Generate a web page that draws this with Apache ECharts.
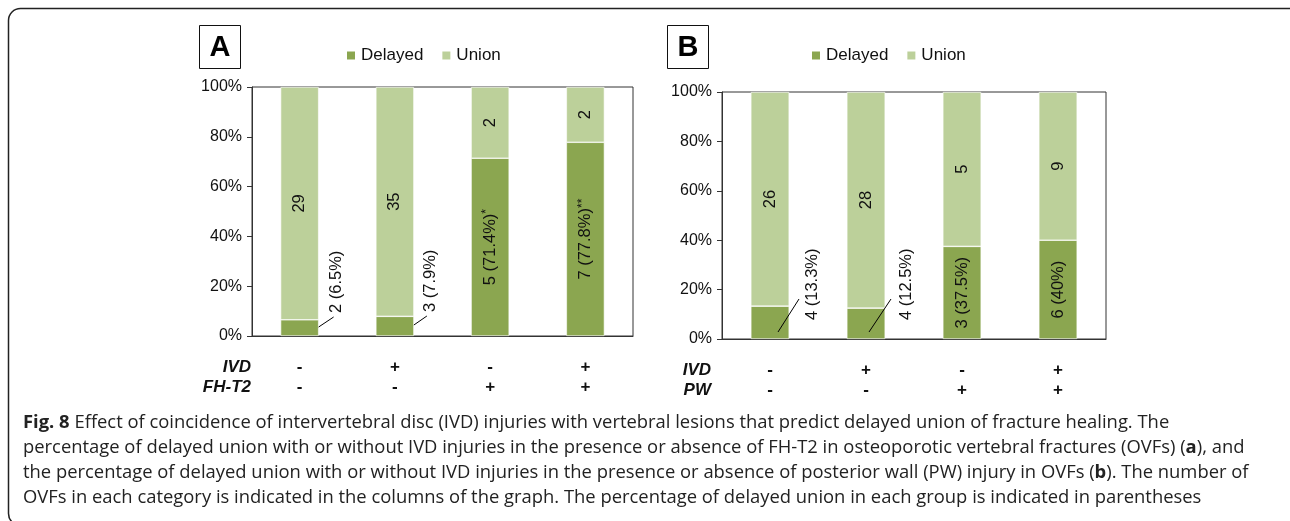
<!DOCTYPE html>
<html><head><meta charset="utf-8">
<script src="https://cdn.jsdelivr.net/npm/echarts@6/dist/echarts.min.js"></script>
<style>html,body{margin:0;padding:0;background:#fff}#c{width:1290px;height:521px}</style>
</head><body><div id="c"></div>
<script>
// ---------- Data ----------
const categoriesA = ['IVD-/FH-T2-', 'IVD+/FH-T2-', 'IVD-/FH-T2+', 'IVD+/FH-T2+'];
const ivdSignsA = ['-', '+', '-', '+'];
const fhSignsA = ['-', '-', '+', '+'];
const delayedPctA = [6.5, 7.9, 71.4, 77.8];
const unionPctA = [93.5, 92.1, 28.6, 22.2];
const delayedCountA = [2, 3, 5, 7];
const unionCountA = [29, 35, 2, 2];
const delayedPctTextA = ['6.5%', '7.9%', '71.4%', '77.8%'];
const starsA = ['', '', '*', '**'];
const outsideA = [true, true, false, false];

const categoriesB = ['IVD-/PW-', 'IVD+/PW-', 'IVD-/PW+', 'IVD+/PW+'];
const ivdSignsB = ['-', '+', '-', '+'];
const pwSignsB = ['-', '-', '+', '+'];
const delayedPctB = [13.3, 12.5, 37.5, 40];
const unionPctB = [86.7, 87.5, 62.5, 60];
const delayedCountB = [4, 4, 3, 6];
const unionCountB = [26, 28, 5, 9];
const delayedPctTextB = ['13.3%', '12.5%', '37.5%', '40%'];
const starsB = ['', '', '', ''];
const outsideB = [true, true, false, false];

const yTickLabels = ['0%', '20%', '40%', '60%', '80%', '100%'];

// ---------- Styles ----------
const DARK = '#8BA650';
const LIGHT = '#BCD09A';
const FONT = '"Liberation Sans", Arial, sans-serif';
const CAP_FONT = '"Open Sans", "Noto Sans", sans-serif';
const CAP_SIZE = 18.4;

const chart = echarts.init(document.getElementById('c'), null, {renderer: 'canvas'});

function yAxisCfg(gi) {
  return {
    type: 'value', gridIndex: gi, min: 0, max: 100, interval: 20,
    axisLine: {show: true, lineStyle: {color: '#333', width: 1}},
    axisTick: {show: true, length: 5, lineStyle: {color: '#333'}},
    splitLine: {show: false},
    axisLabel: {
      fontFamily: FONT, fontSize: 16, color: '#111', margin: 10,
      formatter: (v) => yTickLabels[Math.round(v / 20)]
    }
  };
}
function xAxisCfg(gi, cats, row1, row2) {
  return {
    type: 'category', gridIndex: gi, data: cats,
    axisLine: {show: true, lineStyle: {color: '#333', width: 1}},
    axisTick: {show: false},
    axisLabel: {
      fontFamily: FONT, fontSize: 17, fontWeight: 'bold', color: '#111', margin: 21, lineHeight: 20,
      formatter: (v, i) => row1[i] + '\n' + row2[i]
    }
  };
}
function delayedSeries(gi, pct, counts, pctText, stars, outside) {
  return {
    name: 'Delayed', type: 'bar', stack: 's' + gi, xAxisIndex: gi, yAxisIndex: gi,
    barWidth: '40%',
    itemStyle: {color: DARK, borderColor: '#fff', borderWidth: 0.6},
    data: pct.map((v, i) => ({value: v, label: {show: !outside[i]}})),
    label: {
      show: true, position: 'inside', rotate: 90, align: 'center', verticalAlign: 'middle',
      color: '#111',
      formatter: (p) => '{n|' + counts[p.dataIndex] + ' (' + pctText[p.dataIndex] + ')}' +
        (stars[p.dataIndex] ? '{s|' + stars[p.dataIndex] + '}' : ''),
      rich: {
        n: {fontFamily: FONT, fontSize: 16.5, color: '#111', lineHeight: 18},
        s: {fontFamily: FONT, fontSize: 12, color: '#111', lineHeight: 18, verticalAlign: 'top', padding: [0, 0, 6, 0]}
      }
    }
  };
}
function unionSeries(gi, pct, counts) {
  return {
    name: 'Union', type: 'bar', stack: 's' + gi, xAxisIndex: gi, yAxisIndex: gi,
    barWidth: '40%',
    itemStyle: {color: LIGHT, borderColor: '#fff', borderWidth: 0.6},
    data: pct,
    label: {
      show: true, position: 'inside', rotate: 90, align: 'center', verticalAlign: 'middle',
      fontFamily: FONT, fontSize: 16.5, color: '#111',
      formatter: (p) => String(counts[p.dataIndex])
    }
  };
}
function outsideSeries(gi, pct, counts, pctText, outside, off) {
  const data = [];
  outside.forEach((o, i) => { if (o) data.push([i, pct[i]]); });
  return {
    type: 'custom', xAxisIndex: gi, yAxisIndex: gi, silent: true, z: 5,
    encode: {x: 0, y: 1},
    data: data,
    renderItem: function (params, api) {
      const i = api.value(0);
      const base = api.coord([i, 0]);
      const cx = base[0], by = base[1];
      const o = off[i];
      return {
        type: 'group',
        children: [
          {type: 'line', shape: {x1: cx + o.x1, y1: by + o.y1, x2: cx + o.x2, y2: by + o.y2},
            style: {stroke: '#000', lineWidth: 1}},
          {type: 'text', x: cx + o.tx, y: by + o.ty, rotation: Math.PI / 2,
            style: {text: counts[i] + ' (' + pctText[i] + ')', fontFamily: FONT, fontSize: 16.5,
              fill: '#111', align: 'left', verticalAlign: 'middle'}}
        ]
      };
    }
  };
}

const offA = [
  {x1: 19, y1: -9, x2: 34, y2: -19, tx: 37, ty: -23},
  {x1: 19, y1: -11, x2: 32, y2: -20, tx: 36, ty: -24}
];
const offB = [
  {x1: 8, y1: -7, x2: 29, y2: -40, tx: 42, ty: -19},
  {x1: 3, y1: -7, x2: 25, y2: -40, tx: 40, ty: -19}
];

function hdr(text, x, y) {
  return {type: 'text', x: x, y: y, style: {text: text, fontFamily: FONT, fontSize: 17,
    fontWeight: 'bold', fontStyle: 'italic', fill: '#111', align: 'right', verticalAlign: 'middle'}};
}
function panelBox(letter, x, y, w, h) {
  return [
    {type: 'rect', shape: {x: x + 0.5, y: y + 0.5, width: w, height: h},
      style: {fill: '#fff', stroke: '#111', lineWidth: 1}},
    {type: 'text', x: x + w / 2 + 0.5, y: y + h / 2 + 1.5,
      style: {text: letter, fontFamily: FONT, fontSize: 29, fontWeight: 'bold', fill: '#000',
        align: 'center', verticalAlign: 'middle'}}
  ];
}
const capRich = {
  b: {fontFamily: CAP_FONT, fontSize: CAP_SIZE, fontWeight: 'bold', fill: '#222'}
};
function capLine(text, y) {
  return {type: 'text', x: 23, y: y, style: {text: text, fontFamily: CAP_FONT, fontSize: CAP_SIZE,
    fill: '#222', align: 'left', verticalAlign: 'middle', rich: capRich}};
}

const option = {
  backgroundColor: '#fff',
  animation: false,
  legend: [
    {data: ['Delayed', 'Union'], left: 345, top: 47, padding: 0, itemWidth: 10, itemHeight: 10,
      itemGap: 17, icon: 'rect', textStyle: {fontFamily: FONT, fontSize: 17, color: '#111'}},
    {data: ['Delayed', 'Union'], left: 810, top: 47, padding: 0, itemWidth: 10, itemHeight: 10,
      itemGap: 17, icon: 'rect', textStyle: {fontFamily: FONT, fontSize: 17, color: '#111'}}
  ],
  grid: [
    {left: 252, top: 87, width: 381, height: 249, show: true, borderColor: '#333', borderWidth: 1, backgroundColor: 'transparent'},
    {left: 722, top: 92, width: 384, height: 247, show: true, borderColor: '#333', borderWidth: 1, backgroundColor: 'transparent'}
  ],
  xAxis: [xAxisCfg(0, categoriesA, ivdSignsA, fhSignsA), xAxisCfg(1, categoriesB, ivdSignsB, pwSignsB)],
  yAxis: [yAxisCfg(0), yAxisCfg(1)],
  series: [
    delayedSeries(0, delayedPctA, delayedCountA, delayedPctTextA, starsA, outsideA),
    unionSeries(0, unionPctA, unionCountA),
    outsideSeries(0, delayedPctA, delayedCountA, delayedPctTextA, outsideA, offA),
    delayedSeries(1, delayedPctB, delayedCountB, delayedPctTextB, starsB, outsideB),
    unionSeries(1, unionPctB, unionCountB),
    outsideSeries(1, delayedPctB, delayedCountB, delayedPctTextB, outsideB, offB)
  ],
  graphic: [
    {type: 'rect', silent: true, shape: {x: 8.5, y: 8.5, width: 1300, height: 517, r: 12},
      style: {fill: 'none', stroke: '#222', lineWidth: 1.5}},
    ...panelBox('A', 199, 25, 41, 43),
    ...panelBox('B', 667, 25, 41, 43),
    hdr('IVD', 251, 367), hdr('FH-T2', 251, 387),
    hdr('IVD', 711, 370), hdr('PW', 711, 390),
    capLine('{b|Fig. 8} Effect of coincidence of intervertebral disc (IVD) injuries with vertebral lesions that predict delayed union of fracture healing. The', 423),
    capLine('percentage of delayed union with or without IVD injuries in the presence or absence of FH-T2 in osteoporotic vertebral fractures (OVFs) ({b|a}), and', 448),
    capLine('the percentage of delayed union with or without IVD injuries in the presence or absence of posterior wall (PW) injury in OVFs ({b|b}). The number of', 473),
    capLine('OVFs in each category is indicated in the columns of the graph. The percentage of delayed union in each group is indicated in parentheses', 498)
  ]
};
chart.setOption(option);
</script>
</body></html>
